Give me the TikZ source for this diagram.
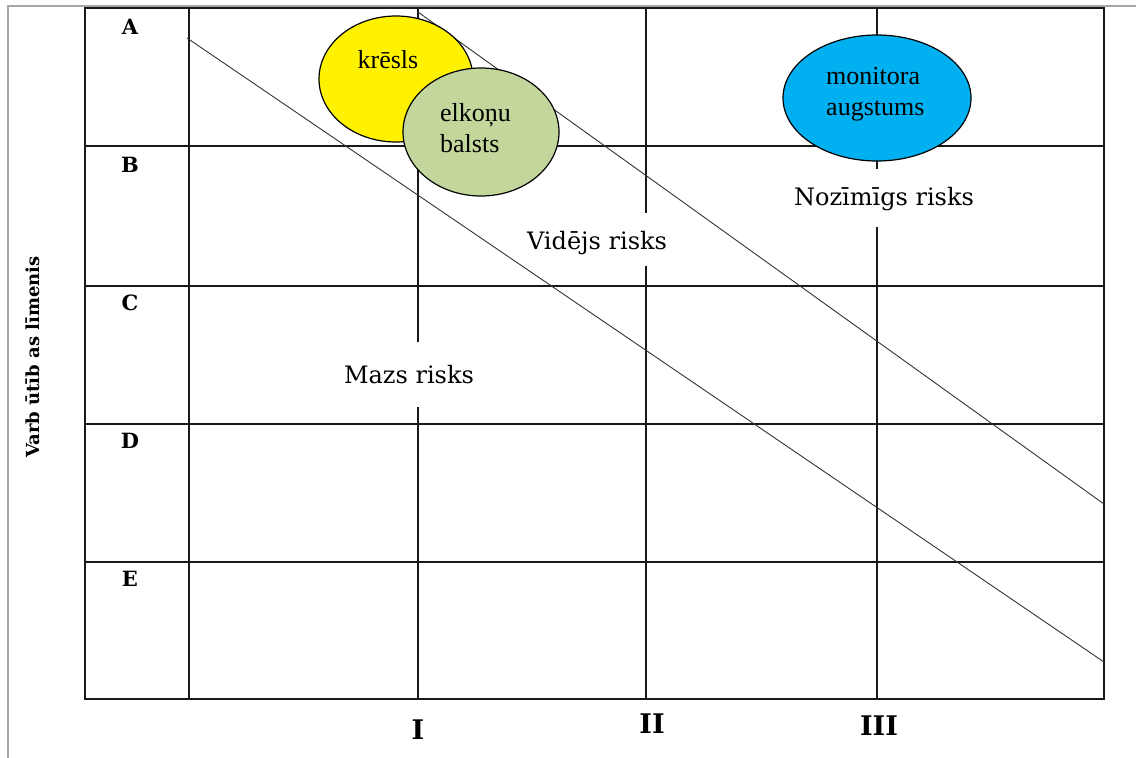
\documentclass[tikz,border=0pt]{standalone}
\usepackage{fontspec}
\setmainfont{Liberation Serif}
\newfontfamily\dvs{DejaVu Serif}
\usetikzlibrary{shapes.geometric}
\tikzset{
  gridline/.style={line width=1.6pt, black!90},
  outerbox/.style={line width=2pt, black!90},
  diag/.style={line width=0.9pt, black!80},
  pageframe/.style={line width=1.6pt, black!35},
  risk/.style={font=\dvs\fontsize{24}{30}\selectfont, fill=white, anchor=base, inner xsep=2pt, inner ysep=6pt, text height=30pt},
  rowlab/.style={font=\dvs\bfseries\fontsize{21}{24}\selectfont, anchor=base},
  collab/.style={font=\dvs\bfseries\fontsize{27}{30}\selectfont, anchor=base},
  bubble/.style={ellipse, draw, line width=1.2pt, inner sep=0pt},
  btext/.style={font=\fontsize{26}{31}\selectfont, align=left, inner sep=0pt}
}
\begin{document}
\begin{tikzpicture}[x=1pt,y=-1pt]
\useasboundingbox (0,0) rectangle (1136,758);
% page frame
\draw[pageframe] (8,758) -- (8,6) -- (1136,6);
% grid
\draw[outerbox] (85,8) rectangle (1104,699);
\foreach \yy in {146,286,424,562} \draw[gridline] (85,\yy) -- (1104,\yy);
\foreach \xx in {189,418,646,877} \draw[gridline] (\xx,8) -- (\xx,699);
% risk labels
\node[risk, text height=35pt, text depth=18pt] (mazs) at (409,383) {Mazs risks};
\node[risk, text depth=11pt] (videjs) at (597,249) {Vidējs risks};
\node[risk, text depth=16pt] (nozim) at (884,205) {Nozīmīgs risks};
% diagonals
\coordinate (d1s) at (187,38);
\coordinate (d1e) at (1104,662);
\coordinate (d2s) at (418,12);
\coordinate (d2e) at (1104,504);
\draw[diag] (d1s) -- (d1e);
\draw[diag] (d2s) -- (d2e);
% row labels
\node[rowlab] (rA) at (130,34) {A};
\node[rowlab] (rB) at (130,172) {B};
\node[rowlab] (rC) at (130,310) {C};
\node[rowlab] (rD) at (130,448) {D};
\node[rowlab] (rE) at (130,586) {E};
% column labels
\node[collab] (cI) at (418,739) {I};
\node[collab] (cII) at (652,733) {II};
\node[collab] (cIII) at (879,735) {III};
% axis label
\node[rotate=90, font=\dvs\bfseries\fontsize{18}{24}\selectfont] (axis) at (33,357) {Varb ūtīb as līmenis};
% bubbles
\node[bubble, fill=yellow, minimum width=154pt, minimum height=126pt] (kresls) at (396,79) {};
\node[btext, anchor=base] (kreslsT) at (388,68) {krēsls};
\node[bubble, fill={rgb,255:red,195;green,214;blue,155}, minimum width=156pt, minimum height=128pt] (elkonu) at (481,132) {};
\node[btext, anchor=west] (elkonuT) at (440,128) {elkoņu\\balsts};
\node[bubble, fill={rgb,255:red,0;green,176;blue,240}, minimum width=188pt, minimum height=126pt] (monitor) at (877,98) {};
\node[btext, anchor=west] (monitorT) at (826,94) {monitora\\augstums};
\end{tikzpicture}
\end{document}
